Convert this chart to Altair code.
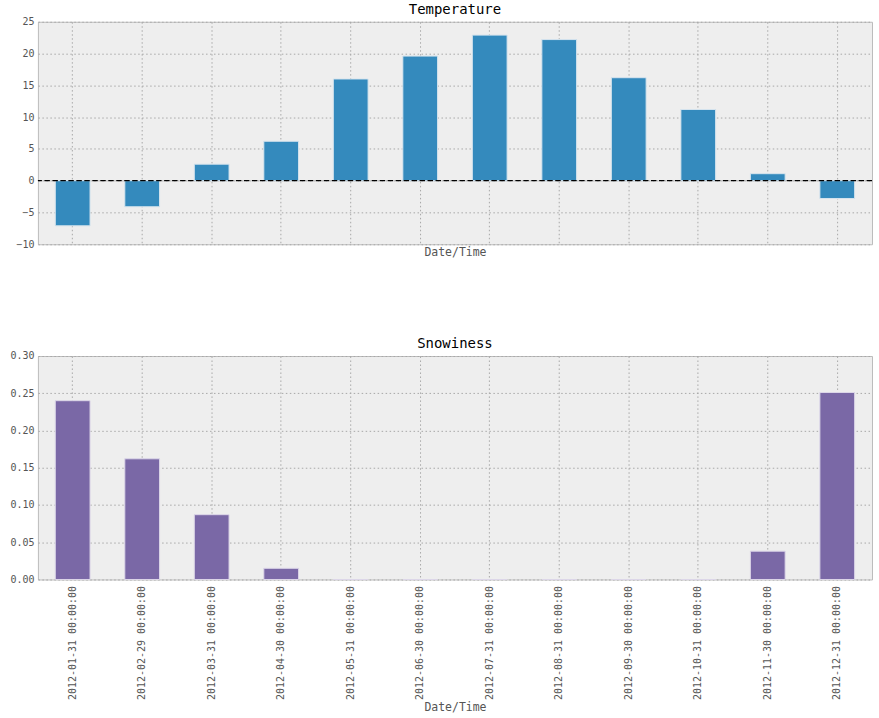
import altair as alt
import pandas as pd

months = ["2012-01-31 00:00:00", "2012-02-29 00:00:00", "2012-03-31 00:00:00",
          "2012-04-30 00:00:00", "2012-05-31 00:00:00", "2012-06-30 00:00:00",
          "2012-07-31 00:00:00", "2012-08-31 00:00:00", "2012-09-30 00:00:00",
          "2012-10-31 00:00:00", "2012-11-30 00:00:00", "2012-12-31 00:00:00"]
temperature = [-7.1, -4.1, 2.6, 6.2, 16.0, 19.6, 22.9, 22.2, 16.2, 11.2, 1.1, -2.8]
snowiness = [0.240, 0.162, 0.087, 0.015, 0.0, 0.0, 0.0, 0.0, 0.0, 0.0, 0.038, 0.251]

temp_ticks = [-10, -5, 0, 5, 10, 15, 20, 25]
snow_ticks = [0.0, 0.05, 0.10, 0.15, 0.20, 0.25, 0.30]

df = pd.DataFrame({"Date/Time": months, "Temperature": temperature, "Snowiness": snowiness})
zero = pd.DataFrame({"z": [0]})

FONT = "DejaVu Sans Mono"
W, H = 836, 223

xscale = alt.Scale(paddingInner=0.5, paddingOuter=0.25)
temp_scale = alt.Scale(domain=[-10, 25], nice=False, zero=False)
temp_axis = alt.Axis(values=temp_ticks, title=None, ticks=False, domain=False,
                     labelPadding=4, labelOverlap=False)

top_bars = alt.Chart(df).mark_bar(color="#348ABD", stroke="#D6E4EE", strokeWidth=1).encode(
    x=alt.X("Date/Time:N", sort=None, scale=xscale,
            axis=alt.Axis(labels=False, ticks=False, domain=False, bandPosition=0.5,
                          title="Date/Time", titlePadding=2)),
    y=alt.Y("Temperature:Q", scale=temp_scale, axis=temp_axis, title=None),
)
top_rule = alt.Chart(zero).mark_rule(color="black", strokeWidth=1.3, strokeDash=[5.5, 2.5]).encode(
    y=alt.Y("z:Q", scale=temp_scale, axis=temp_axis, title=None))
top = alt.layer(top_bars, top_rule).properties(
    width=W, height=H, title=alt.Title("Temperature", offset=0))

bottom = alt.Chart(df).mark_bar(color="#7A68A6", stroke="#DCD6E8", strokeWidth=1).encode(
    x=alt.X("Date/Time:N", sort=None, scale=xscale,
            axis=alt.Axis(labelAngle=270, ticks=False, domain=False, bandPosition=0.5,
                          labelPadding=6, title="Date/Time", titlePadding=2)),
    y=alt.Y("Snowiness:Q", scale=alt.Scale(domain=[0, 0.3], nice=False),
            axis=alt.Axis(values=snow_ticks, format=".2f", title=None, ticks=False,
                          domain=False, labelPadding=4, labelOverlap=False)),
).properties(width=W, height=224, title=alt.Title("Snowiness", offset=0))

chart = alt.vconcat(top, bottom, spacing=78).properties(
    padding={"left": 9, "top": 1, "right": 5, "bottom": 0},
    background="white",
).configure_view(
    fill="#EEEEEE", stroke="#BCBCBC", strokeWidth=1
).configure_axis(
    grid=True, gridColor="#A8A8A8", gridDash=[1.5, 2.5], gridWidth=1,
    labelFont=FONT, labelFontSize=10, labelColor="#555555",
    titleFont=FONT, titleFontSize=11.5, titleColor="#555555", titleFontWeight="normal",
).configure_title(
    font=FONT, fontSize=14, fontWeight="normal", color="black", anchor="middle"
).configure_concat(spacing=78)

chart.save("out.html", embed_options={"renderer": "svg", "actions": False})
